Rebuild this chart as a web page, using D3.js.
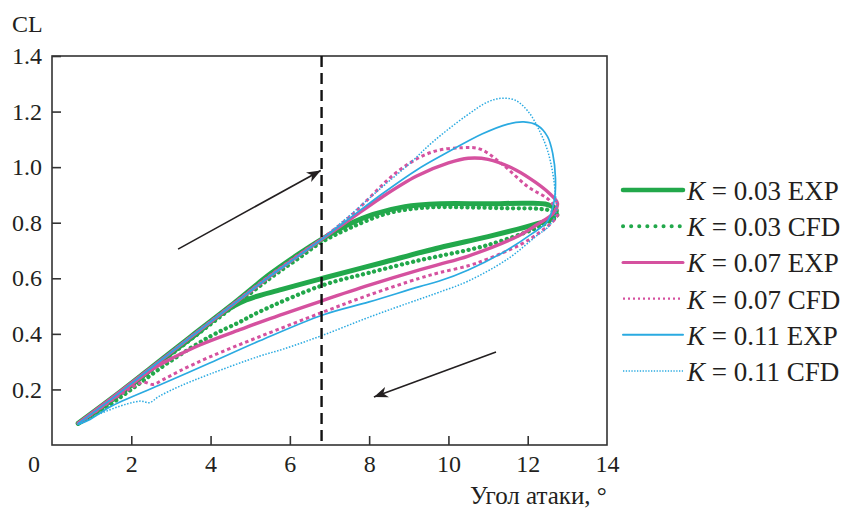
<!DOCTYPE html>
<meta charset="utf-8">
<html>
<head>
<script src="https://d3js.org/d3.v7.min.js"></script>
<style>
  body { margin: 0; background: #fff; }
  text { font-family: "Liberation Serif", "Times New Roman", serif; fill: #231f20; }
</style>
</head>
<body>
<svg id="chart" width="845" height="508"></svg>
<script>
// angle of attack (deg), CL -- each loop goes up the upper branch and back down the lower one
var k03Exp = [[0.66,0.078],[1.5,0.167],[2.5,0.278],[3.5,0.39],[4.5,0.5],[5.5,0.615],[6.2,0.685],[6.8,0.74],
  [7.5,0.795],[8.1,0.83],[8.9,0.858],[9.8,0.868],[11,0.868],[12,0.87],[12.5,0.865],[12.72,0.845],
  [12.6,0.815],[12.2,0.795],[11,0.75],[9.77,0.71],[8.3,0.655],[6.83,0.6],[5.8,0.56],[4.9,0.522],
  [4.3,0.475],[3.6,0.395],[3.0,0.33],[2.0,0.215],[1.2,0.13],[0.66,0.078]];
var k03Cfd = [[0.66,0.078],[1.5,0.16],[2.5,0.27],[3.5,0.38],[4.5,0.49],[5.5,0.6],[6.2,0.67],[6.8,0.73],
  [7.5,0.78],[8.5,0.835],[9.5,0.855],[10.5,0.855],[11.5,0.852],[12.3,0.85],[12.65,0.84],[12.75,0.825],
  [12.6,0.81],[12.2,0.78],[11,0.72],[9.77,0.68],[9.27,0.665],[8,0.62],[6.83,0.575],[5.24,0.48],
  [4.74,0.443],[3.98,0.39],[2.97,0.3],[2.0,0.2],[1.2,0.12],[0.66,0.078]];
var k07Exp = [[0.66,0.078],[1.5,0.168],[2.5,0.278],[3.5,0.388],[4.5,0.498],[5.5,0.608],[6.2,0.68],[6.8,0.74],
  [7.5,0.81],[8.3,0.89],[9.2,0.968],[10,1.015],[10.5,1.032],[11,1.028],[11.7,0.99],[12.2,0.945],
  [12.55,0.905],[12.75,0.87],[12.65,0.835],[12.2,0.79],[11.8,0.755],[10.5,0.68],[9.77,0.65],[9.27,0.63],
  [8,0.575],[6.83,0.52],[5.5,0.455],[4.74,0.415],[3.73,0.36],[3.0,0.31],[2.5,0.27],[1.5,0.163],[0.66,0.078]];
var k07Cfd = [[0.66,0.078],[1.5,0.166],[2.5,0.277],[3.5,0.389],[4.5,0.5],[5.5,0.61],[6.2,0.682],[6.8,0.742],
  [7.5,0.82],[8.77,0.99],[9.6,1.055],[10.35,1.07],[10.8,1.065],[11.36,1.01],[12.0,0.93],[12.55,0.88],
  [12.75,0.83],[12.6,0.8],[12.2,0.755],[11.8,0.72],[11,0.67],[10.5,0.645],[9.77,0.62],[9.27,0.6],
  [8,0.54],[6.83,0.478],[5.24,0.39],[3.98,0.317],[3.2,0.265],[2.8,0.235],[2.55,0.218],[2.3,0.226],
  [2.0,0.205],[1.6,0.17],[1.2,0.13],[0.66,0.078]];
var k11Exp = [[0.66,0.077],[1.5,0.165],[2.5,0.277],[3.5,0.388],[4.5,0.498],[5.5,0.607],[6.2,0.678],[6.8,0.74],
  [7.5,0.815],[8.34,0.905],[9.2,0.99],[10,1.055],[10.86,1.12],[11.5,1.155],[11.9,1.163],[12.25,1.15],
  [12.5,1.11],[12.63,1.05],[12.7,0.96],[12.67,0.88],[12.5,0.805],[12.1,0.76],[11.4,0.695],[10.5,0.63],
  [9.77,0.59],[9.27,0.57],[8,0.515],[6.83,0.468],[5.24,0.375],[3.98,0.295],[2.7,0.215],[1.46,0.137],
  [0.96,0.092],[0.66,0.074]];
var k11Cfd = [[0.66,0.077],[1.5,0.166],[2.5,0.278],[3.5,0.39],[4.5,0.5],[5.5,0.61],[6.2,0.68],[6.8,0.742],
  [7.5,0.825],[8.3,0.925],[9.0,1.01],[9.6,1.09],[10.45,1.185],[11.0,1.235],[11.35,1.248],[11.7,1.24],
  [12.04,1.195],[12.3,1.13],[12.5,1.06],[12.63,0.98],[12.7,0.9],[12.72,0.84],[12.55,0.79],[12.2,0.75],
  [11.5,0.67],[10.5,0.59],[9.77,0.55],[9.27,0.525],[8,0.46],[6.83,0.395],[5.83,0.345],[5.24,0.32],
  [3.98,0.255],[3.2,0.21],[2.7,0.175],[2.45,0.152],[2.25,0.158],[1.9,0.148],[1.2,0.112],[0.85,0.088],[0.66,0.077]];

var seriesNames = ["K = 0.03 EXP", "K = 0.03 CFD", "K = 0.07 EXP", "K = 0.07 CFD", "K = 0.11 EXP", "K = 0.11 CFD"];
var xTicks = [2, 4, 6, 8, 10, 12, 14];
var yTicks = [0.2, 0.4, 0.6, 0.8, 1.0, 1.2, 1.4];
var markerX = 6.8;                       // vertical dashed line
var arrowUp = [[3.18, 0.705], [6.78, 0.988]];
var arrowDown = [[11.2, 0.335], [8.12, 0.173]];

var svg = d3.select("#chart");
var x = d3.scaleLinear().domain([0, 14]).range([52, 607]);
var y = d3.scaleLinear().domain([0, 1.4]).range([445, 56]);

var green = "#22a84b", pink = "#d5519f", blue = "#2aaae1";
var styles = [
  {data: k03Exp, color: green, w: 5,   dash: null,      cap: "round", lw: 4.5, ldash: null},
  {data: k03Cfd, color: green, w: 4.3, dash: "0.1 5.6", cap: "round", lw: 4,   ldash: "0.1 8"},
  {data: k07Exp, color: pink,  w: 3.4, dash: null,      cap: "round", lw: 3,   ldash: null},
  {data: k07Cfd, color: pink,  w: 3,   dash: "3.5 3",   cap: "butt",  lw: 2.2, ldash: "2 3"},
  {data: k11Exp, color: blue,  w: 1.7, dash: null,      cap: "round", lw: 2,   ldash: null},
  {data: k11Cfd, color: blue,  w: 1.5, dash: "1.5 1.6", cap: "butt",  lw: 1.5, ldash: "1.3 1.5"}
];

var line = d3.line()
  .x(function(d) { return x(d[0]); })
  .y(function(d) { return y(d[1]); })
  .curve(d3.curveCatmullRom.alpha(0.5));

svg.append("g").selectAll("path")
  .data(styles)
  .enter().append("path")
    .attr("d", function(s) { return line(s.data); })
    .attr("fill", "none")
    .attr("stroke", function(s) { return s.color; })
    .attr("stroke-width", function(s) { return s.w; })
    .attr("stroke-dasharray", function(s) { return s.dash; })
    .attr("stroke-linecap", function(s) { return s.cap; })
    .attr("stroke-linejoin", "round");

// frame
svg.append("rect")
  .attr("x", x(0)).attr("y", y(1.4))
  .attr("width", x(14) - x(0)).attr("height", y(0) - y(1.4))
  .attr("fill", "none").attr("stroke", "#333").attr("stroke-width", 1.6);

// axes with inward ticks
var xAxis = svg.append("g").attr("transform", "translate(0," + y(0) + ")")
  .call(d3.axisBottom(x).tickValues(xTicks).tickSizeInner(-9).tickSizeOuter(0).tickPadding(10).tickFormat(d3.format("d")));
var yAxis = svg.append("g").attr("transform", "translate(" + x(0) + ",0)")
  .call(d3.axisLeft(y).tickValues(yTicks).tickSizeInner(-9).tickSizeOuter(0).tickPadding(10).tickFormat(d3.format(".1f")));
[xAxis, yAxis].forEach(function(a) {
  a.select(".domain").remove();
  a.selectAll("line").attr("stroke", "#333").attr("stroke-width", 1.6);
  a.selectAll("text").attr("font-size", 24).attr("fill", "#231f20")
    .style("font-family", "'Liberation Serif', 'Times New Roman', serif");
});
xAxis.selectAll(".tick").filter(function(d) { return d === 14; }).select("line").remove();

svg.append("text").attr("x", x(0) - 18).attr("y", 472)
  .attr("text-anchor", "middle").attr("font-size", 24).text("0");
svg.append("text").attr("x", 12).attr("y", 32).attr("font-size", 24).text("CL");
svg.append("text").attr("x", 470).attr("y", 504).attr("font-size", 25).text("Угол атаки, °");

// vertical dashed line
svg.append("line")
  .attr("x1", x(markerX)).attr("x2", x(markerX))
  .attr("y1", y(1.4)).attr("y2", y(0))
  .attr("stroke", "#111").attr("stroke-width", 2.4).attr("stroke-dasharray", "11 6");

// arrows
svg.append("defs").append("marker")
  .attr("id", "head").attr("markerUnits", "userSpaceOnUse")
  .attr("viewBox", "-14 -6 15 12").attr("refX", 0).attr("refY", 0)
  .attr("markerWidth", 15).attr("markerHeight", 12).attr("orient", "auto")
  .append("path").attr("d", "M0,0 L-14,-5.5 L-10,0 L-14,5.5 Z").attr("fill", "#231f20");
[arrowUp, arrowDown].forEach(function(a) {
  svg.append("line")
    .attr("x1", x(a[0][0])).attr("y1", y(a[0][1]))
    .attr("x2", x(a[1][0])).attr("y2", y(a[1][1]))
    .attr("stroke", "#231f20").attr("stroke-width", 1.6)
    .attr("marker-end", "url(#head)");
});

// legend
var legend = svg.append("g");
seriesNames.forEach(function(name, i) {
  var s = styles[i];
  var ly = 190 + i * 36.2;
  legend.append("line")
    .attr("x1", 623).attr("x2", 683).attr("y1", ly).attr("y2", ly)
    .attr("stroke", s.color).attr("stroke-width", s.lw)
    .attr("stroke-dasharray", s.ldash).attr("stroke-linecap", s.cap);
  var t = legend.append("text").attr("x", 687).attr("y", ly + 10).attr("font-size", 27);
  t.append("tspan").attr("font-style", "italic").text("K");
  t.append("tspan").text(name.slice(1));
});
</script>
</body>
</html>
